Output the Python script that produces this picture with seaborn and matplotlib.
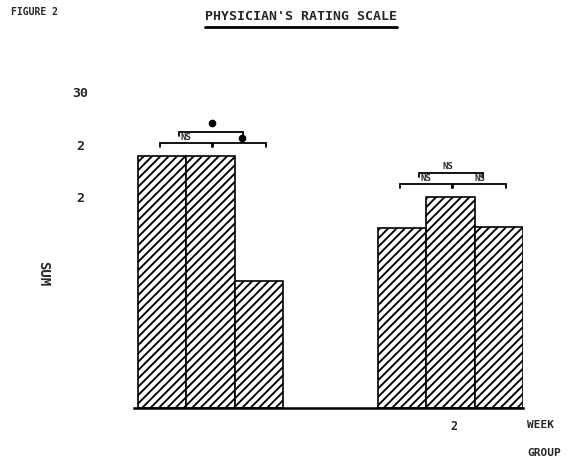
import matplotlib
matplotlib.use("Agg")
import matplotlib.pyplot as plt
from matplotlib.lines import Line2D
import numpy as np
import pandas as pd
import seaborn as sns

# Physician's rating scale: summed score per treatment group at each assessment
weeks = ["0", "0", "0", "2", "2", "2"]
groups = ["A", "B", "C", "A", "B", "C"]
sums = [23.9, 23.9, 12.1, 17.1, 20.0, 17.2]

week_tick_labels = ["", "2"]
y_ticks = [20, 25, 30]
y_tick_labels = ["2", "2", "30"]

# Pairwise comparisons per week: (left bar, right bar, label)
comparisons = {
    "0": [("A", "B", "NS"), ("B", "C", "dot"), ("top", "top", "dot")],
    "2": [("A", "B", "NS"), ("B", "C", "NS"), ("top", "top", "NS")],
}

df = pd.DataFrame({"week": weeks, "group": groups, "sum": sums})

sns.set_theme(style="white")
plt.rcParams["hatch.linewidth"] = 1.35
plt.rcParams["font.family"] = ["DejaVu Sans Mono", "DejaVu Sans"]
plt.rcParams["font.weight"] = "bold"

W, H = 569, 467
fig = plt.figure(figsize=(W / 100, H / 100), dpi=100)
fig.patch.set_facecolor("white")
ax = fig.add_axes([134 / W, 1 - 408 / H, 389 / W, 321.2 / H])

group_width = 0.606
sns.barplot(data=df, x="week", y="sum", hue="group", order=["0", "2"],
            hue_order=["A", "B", "C"], palette=["white"] * 3,
            width=group_width, edgecolor="black", linewidth=1.2,
            legend=False, ax=ax, errorbar=None)
for p in ax.patches:
    p.set_hatch("////")
    p.set_edgecolor("black")

ax.set_xlim(-0.319, 1.302)
ax.set_ylim(0, 30.5)

for s in ["top", "right", "left"]:
    ax.spines[s].set_visible(False)
ax.spines["bottom"].set_color("black")
ax.spines["bottom"].set_linewidth(1.8)

ax.set_xticks([0, 1.015])
ax.set_xticklabels(week_tick_labels, fontsize=8.5, fontweight="bold")
ax.set_yticks(y_ticks)
ax.set_yticklabels(y_tick_labels, fontsize=9.5, fontweight="bold")
ax.tick_params(axis="both", length=0)
ax.tick_params(axis="x", pad=9)
for lab in ax.get_yticklabels():
    lab.set_horizontalalignment("center")
ax.tick_params(axis="y", pad=39)
ax.set_xlabel("")
ax.set_ylabel("")

# Significance brackets above each week's bars
bar_w = group_width / 3
tick = 0.4
for wi, wk in enumerate(["0", "2"]):
    vals = df[df.week == wk].set_index("group")["sum"]
    centers = {g: wi + (k - 1) * bar_w for k, g in enumerate(["A", "B", "C"])}
    top = vals.max()
    low_y, up_y = top + 1.3, top + 2.35
    mids = []
    for j, (g1, g2, lab) in enumerate(comparisons[wk][:2]):
        x1 = centers[g1] + (0.012 if j == 1 else -0.008)
        x2 = centers[g2] + (0.03 if j == 1 else 0.008)
        ax.plot([x1, x1, x2, x2], [low_y - tick, low_y, low_y, low_y - tick],
                color="black", lw=1.3, solid_joinstyle="miter")
        xm = (x1 + x2) / 2
        mids.append(xm)
        if lab == "dot":
            ax.plot([xm + 0.01], [low_y + 0.45], "o", color="black", ms=4.5)
        else:
            ax.text(xm, low_y + 0.1, lab, ha="center", va="bottom",
                    fontsize=6.5, fontweight="bold")
    ux1, ux2 = mids[0] - 0.03, mids[1] + 0.015
    ax.plot([ux1, ux1, ux2, ux2], [up_y - tick, up_y, up_y, up_y - tick],
            color="black", lw=1.3, solid_joinstyle="miter")
    lab = comparisons[wk][2][2]
    if lab == "dot":
        ax.plot([centers["B"] + 0.005], [up_y + 0.8], "o", color="black", ms=4.5)
    else:
        ax.text(centers["B"] - 0.01, up_y + 0.12, lab, ha="center", va="bottom",
                fontsize=6.5, fontweight="bold")

# Figure captions
fig.text(11 / W, 1 - 12 / H, "FIGURE 2", ha="left", va="center",
         fontsize=7, fontweight="bold")
title = fig.text(301 / W, 1 - 16 / H, "PHYSICIAN'S RATING SCALE", ha="center",
                 va="center", fontsize=9.5, fontweight="bold")
fig.canvas.draw()
bb = title.get_window_extent().transformed(fig.transFigure.inverted())
fig.add_artist(Line2D([bb.x0, bb.x1], [1 - 27 / H, 1 - 27 / H],
                      transform=fig.transFigure, color="black", lw=2))

fig.text(43 / W, 1 - 274 / H, "SUM", rotation=270, ha="center", va="center",
         fontsize=10, fontweight="bold")
fig.text(527 / W, 1 - 425 / H, "WEEK", ha="left", va="center",
         fontsize=8, fontweight="bold")
fig.text(527 / W, 1 - 453 / H, "GROUP", ha="left", va="center",
         fontsize=8, fontweight="bold")

fig.savefig("out.png", dpi=100, facecolor="white")
